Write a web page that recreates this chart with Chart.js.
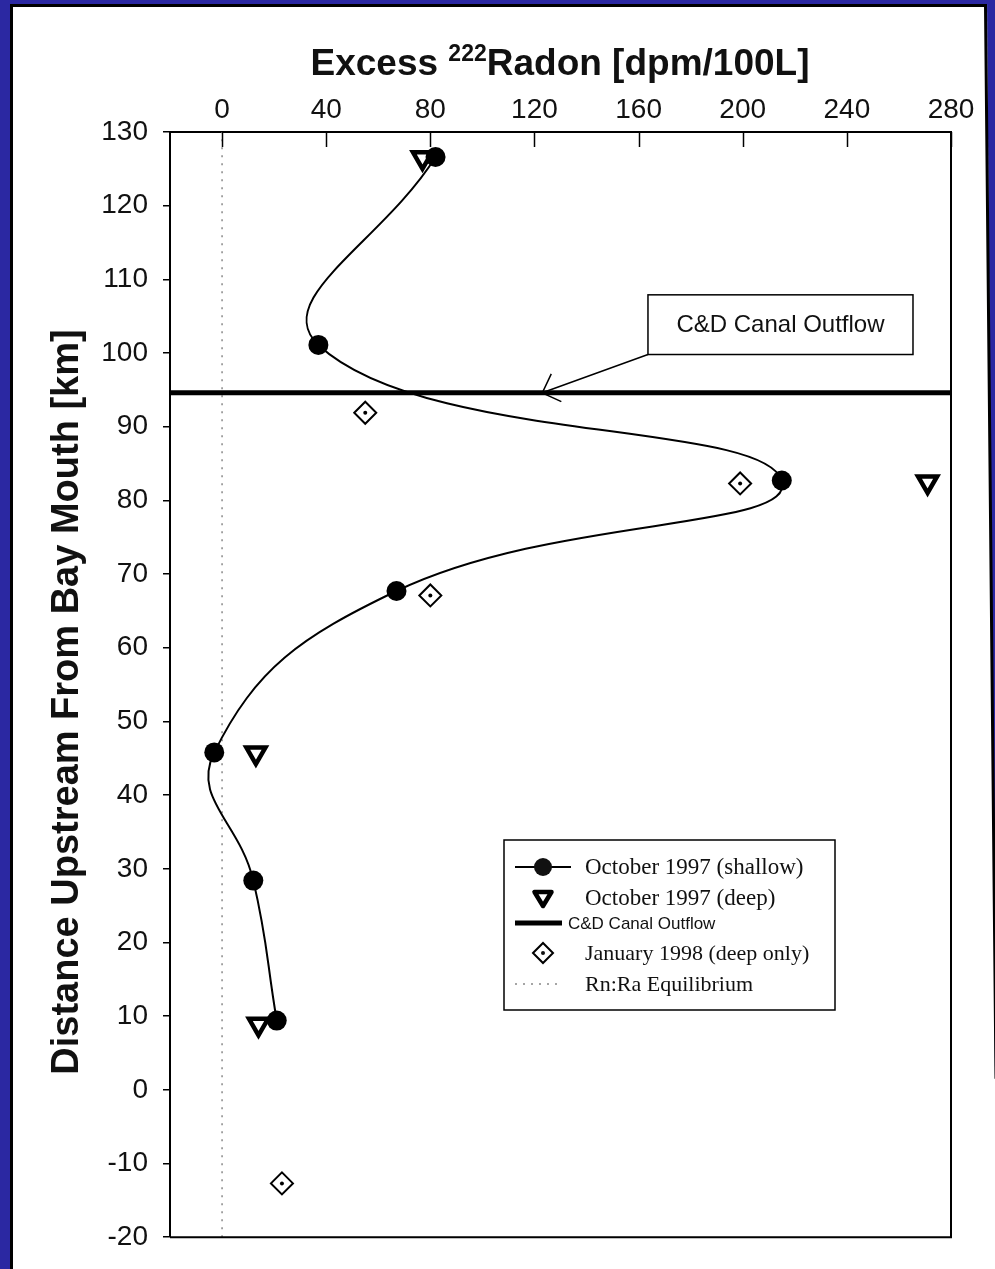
<!DOCTYPE html>
<html>
<head>
<meta charset="utf-8">
<title>Excess 222Radon profile</title>
<script src="https://cdn.jsdelivr.net/npm/chart.js@4.4.1/dist/chart.umd.min.js"></script>
<style>
  html, body { margin: 0; padding: 0; background: #fff; }
  #wrap { position: relative; width: 995px; height: 1269px; }
</style>
</head>
<body>
<div id="wrap"><canvas id="radonChart"></canvas></div>
<script>
// distance upstream from bay mouth (km) and excess 222Rn (dpm/100L)
const shallowKm = [126.6, 101.1, 82.7, 67.7, 45.8, 28.4, 9.4];
const shallowRn = [82, 37, 215, 67, -3, 12, 21];

const deepKm = [126.5, 82.5, 45.7, 8.9];
const deepRn = [77, 271, 13, 14];

const janKm = [91.9, 82.3, 67.1, -12.7];
const janRn = [55, 199, 80, 23];

const canalKm = 94.6;
const equilibriumRn = 0;

const rnTicks = [0, 40, 80, 120, 160, 200, 240, 280];
const kmTicks = [-20, -10, 0, 10, 20, 30, 40, 50, 60, 70, 80, 90, 100, 110, 120, 130];
const rnRange = [-20, 280];
const kmRange = [-20, 130];

const toPoints = (xs, ys) => xs.map((x, i) => ({ x: x, y: ys[i] }));

const SANS = '"Liberation Sans", Arial, sans-serif';
const SERIF = '"Liberation Serif", "Times New Roman", serif';
const BLUE = '#2b28a2';

// blue scan border round the page
const pageFrame = {
    id: 'pageFrame',
    beforeDraw(chart) {
        const ctx = chart.ctx;
        const w = chart.width, h = chart.height;
        ctx.save();
        ctx.fillStyle = '#fff';
        ctx.fillRect(0, 0, w, h);
        ctx.fillStyle = BLUE;
        ctx.fillRect(0, 0, w, 4);
        ctx.fillRect(0, 0, 10, h);
        ctx.beginPath();
        ctx.moveTo(w - 8, 0);
        ctx.lineTo(w, 0);
        ctx.lineTo(w, h * 0.85);
        ctx.closePath();
        ctx.fill();
        ctx.strokeStyle = '#000';
        ctx.lineWidth = 3;
        ctx.beginPath();
        ctx.moveTo(11.5, h);
        ctx.lineTo(11.5, 5.5);
        ctx.lineTo(w - 9.5, 5.5);
        ctx.lineTo(w + 1, h * 0.85);
        ctx.stroke();
        ctx.restore();
    }
};

// closes the plot box and draws the inward ticks of the top axis
const plotBox = {
    id: 'plotBox',
    afterDraw(chart) {
        const { ctx, chartArea: a } = chart;
        const xs = chart.scales.x;
        ctx.save();
        ctx.strokeStyle = '#000';
        ctx.lineWidth = 2;
        ctx.beginPath();
        ctx.moveTo(a.right, a.top);
        ctx.lineTo(a.right, a.bottom);
        ctx.lineTo(a.left, a.bottom);
        ctx.stroke();
        ctx.lineWidth = 1.5;
        rnTicks.forEach(v => {
            const px = Math.round(xs.getPixelForValue(v)) + 0.5;
            ctx.beginPath();
            ctx.moveTo(px, a.top);
            ctx.lineTo(px, a.top + 15);
            ctx.stroke();
        });
        ctx.restore();
    }
};

const axisTitles = {
    id: 'axisTitles',
    afterDraw(chart) {
        const ctx = chart.ctx;
        ctx.save();
        ctx.fillStyle = '#111';
        ctx.textBaseline = 'alphabetic';

        // top title with superscript mass number
        const big = 'bold 37px ' + SANS;
        const small = 'bold 23px ' + SANS;
        const pre = 'Excess ', sup = '222', post = 'Radon [dpm/100L]';
        ctx.font = big;
        const wPre = ctx.measureText(pre).width;
        const wPost = ctx.measureText(post).width;
        ctx.font = small;
        const wSup = ctx.measureText(sup).width;
        let x = 560 - (wPre + wSup + wPost) / 2;
        ctx.font = big;
        ctx.fillText(pre, x, 75);
        x += wPre;
        ctx.font = small;
        ctx.fillText(sup, x, 61);
        x += wSup;
        ctx.font = big;
        ctx.fillText(post, x, 75);

        // left title
        ctx.translate(78, 702);
        ctx.rotate(-Math.PI / 2);
        ctx.textAlign = 'center';
        ctx.font = 'bold 38px ' + SANS;
        ctx.fillText('Distance Upstream From Bay Mouth [km]', 0, 0);
        ctx.restore();
    }
};

// callout box pointing at the canal line
const canalCallout = {
    id: 'canalCallout',
    afterDraw(chart, args, opts) {
        const { ctx } = chart;
        const xs = chart.scales.x, ys = chart.scales.y;
        const l = xs.getPixelForValue(opts.box[0]);
        const r = xs.getPixelForValue(opts.box[1]);
        const t = ys.getPixelForValue(opts.box[2]);
        const b = ys.getPixelForValue(opts.box[3]);
        const tipX = xs.getPixelForValue(opts.tip[0]);
        const tipY = ys.getPixelForValue(opts.tip[1]);
        ctx.save();
        ctx.fillStyle = '#fff';
        ctx.fillRect(l, t, r - l, b - t);
        ctx.strokeStyle = '#000';
        ctx.lineWidth = 1.5;
        ctx.strokeRect(l, t, r - l, b - t);
        ctx.fillStyle = '#111';
        ctx.font = '24px ' + SANS;
        ctx.textAlign = 'center';
        ctx.textBaseline = 'middle';
        ctx.fillText(opts.text, (l + r) / 2, (t + b) / 2 + 1);

        ctx.beginPath();
        ctx.moveTo(l, b);
        ctx.lineTo(tipX, tipY);
        const ang = Math.atan2(b - tipY, l - tipX);
        const head = 21;
        ctx.moveTo(tipX + head * Math.cos(ang - 0.78), tipY + head * Math.sin(ang - 0.78));
        ctx.lineTo(tipX, tipY);
        ctx.lineTo(tipX + head * Math.cos(ang + 0.78), tipY + head * Math.sin(ang + 0.78));
        ctx.stroke();
        ctx.restore();
    }
};

const boxLegend = {
    id: 'boxLegend',
    afterDraw(chart) {
        const ctx = chart.ctx;
        const left = 504, top = 840, width = 331, height = 170;
        const sx = 543, tx = 585;
        ctx.save();
        ctx.fillStyle = '#fff';
        ctx.fillRect(left, top, width, height);
        ctx.strokeStyle = '#000';
        ctx.lineWidth = 1.5;
        ctx.strokeRect(left, top, width, height);
        ctx.fillStyle = '#111';
        ctx.textBaseline = 'middle';

        // shallow: line with filled circle
        let y = 867;
        ctx.lineWidth = 2;
        ctx.beginPath();
        ctx.moveTo(515, y); ctx.lineTo(571, y);
        ctx.stroke();
        ctx.beginPath();
        ctx.arc(sx, y, 9, 0, Math.PI * 2);
        ctx.fill();
        ctx.font = '23px ' + SERIF;
        ctx.fillText('October 1997 (shallow)', tx, y + 1);

        // deep: open down-pointing triangle
        y = 898;
        ctx.lineWidth = 4.5;
        ctx.lineJoin = 'round';
        ctx.beginPath();
        ctx.moveTo(sx - 8.5, y - 6);
        ctx.lineTo(sx + 8.5, y - 6);
        ctx.lineTo(sx, y + 8);
        ctx.closePath();
        ctx.fillStyle = '#fff';
        ctx.fill();
        ctx.stroke();
        ctx.lineJoin = 'miter';
        ctx.fillStyle = '#111';
        ctx.fillText('October 1997 (deep)', tx, y + 1);

        // canal outflow: heavy line
        y = 923;
        ctx.lineWidth = 5;
        ctx.beginPath();
        ctx.moveTo(515, y); ctx.lineTo(562, y);
        ctx.stroke();
        ctx.font = '17px ' + SANS;
        ctx.fillText('C&D Canal Outflow', 568, y + 1);

        // January: diamond with centre dot
        y = 953;
        ctx.lineWidth = 2;
        ctx.beginPath();
        ctx.moveTo(sx - 10, y); ctx.lineTo(sx, y - 10);
        ctx.lineTo(sx + 10, y); ctx.lineTo(sx, y + 10);
        ctx.closePath();
        ctx.stroke();
        ctx.beginPath();
        ctx.arc(sx, y, 2, 0, Math.PI * 2);
        ctx.fill();
        ctx.font = '22px ' + SERIF;
        ctx.fillText('January 1998 (deep only)', tx, y + 1);

        // equilibrium: dotted line
        y = 984;
        ctx.strokeStyle = '#888';
        ctx.lineWidth = 1.5;
        ctx.setLineDash([2, 6]);
        ctx.beginPath();
        ctx.moveTo(515, y); ctx.lineTo(562, y);
        ctx.stroke();
        ctx.setLineDash([]);
        ctx.fillText('Rn:Ra Equilibrium', tx, y + 1);
        ctx.restore();
    }
};

const ctx = document.getElementById('radonChart').getContext('2d');
const radonChart = new Chart(ctx, {
    type: 'scatter',
    data: {
        datasets: [
            {
                label: 'October 1997 (shallow)',
                data: toPoints(shallowRn, shallowKm),
                showLine: true,
                tension: 0.45,
                borderColor: '#000',
                borderWidth: 2,
                pointRadius: 10,
                pointBackgroundColor: '#000',
                pointBorderWidth: 0
            },
            {
                label: 'October 1997 (deep)',
                data: toPoints(deepRn, deepKm),
                pointStyle: 'triangle',
                rotation: 180,
                pointRadius: 11,
                pointBackgroundColor: '#fff',
                pointBorderColor: '#000',
                pointBorderWidth: 4.5
            },
            {
                label: 'January 1998 (deep only) centre',
                data: toPoints(janRn, janKm),
                pointRadius: 2,
                pointBackgroundColor: '#000',
                pointBorderWidth: 0
            },
            {
                label: 'January 1998 (deep only)',
                data: toPoints(janRn, janKm),
                pointStyle: 'rectRot',
                pointRadius: 11,
                pointBackgroundColor: '#fff',
                pointBorderColor: '#000',
                pointBorderWidth: 2
            },
            {
                label: 'C&D Canal Outflow',
                data: toPoints(rnRange, [canalKm, canalKm]),
                showLine: true,
                borderColor: '#000',
                borderWidth: 5,
                pointRadius: 0
            },
            {
                label: 'Rn:Ra Equilibrium',
                data: toPoints([equilibriumRn, equilibriumRn], kmRange),
                showLine: true,
                borderColor: '#888',
                borderWidth: 1.5,
                borderDash: [2, 6],
                pointRadius: 0
            }
        ]
    },
    options: {
        responsive: true,
        maintainAspectRatio: false,
        animation: false,
        devicePixelRatio: 1,
        layout: { padding: { left: 0, top: 0, right: 44, bottom: 23 } },
        scales: {
            x: {
                type: 'linear',
                position: 'top',
                min: rnRange[0],
                max: rnRange[1],
                afterBuildTicks: s => { s.ticks = rnTicks.map(v => ({ value: v })); },
                afterFit: s => { s.height = 132; },
                grid: { drawOnChartArea: false, drawTicks: false },
                border: { display: true, color: '#000', width: 2 },
                ticks: {
                    autoSkip: false,
                    maxRotation: 0,
                    padding: 5,
                    color: '#111',
                    font: { family: SANS, size: 28 }
                }
            },
            y: {
                type: 'linear',
                min: kmRange[0],
                max: kmRange[1],
                afterBuildTicks: s => { s.ticks = kmTicks.map(v => ({ value: v })); },
                afterFit: s => { s.width = 170; },
                grid: { drawOnChartArea: false, drawTicks: true, tickLength: 7, color: '#000', lineWidth: 1.5 },
                border: { display: true, color: '#000', width: 2 },
                ticks: {
                    autoSkip: false,
                    padding: 15,
                    color: '#111',
                    font: { family: SANS, size: 28 }
                }
            }
        },
        plugins: {
            legend: { display: false },
            tooltip: { enabled: false },
            canalCallout: {
                text: 'C&D Canal Outflow',
                box: [163.6, 265.4, 107.9, 99.8],
                tip: [123, canalKm]
            }
        }
    },
    plugins: [pageFrame, plotBox, axisTitles, canalCallout, boxLegend]
});
</script>
</body>
</html>
